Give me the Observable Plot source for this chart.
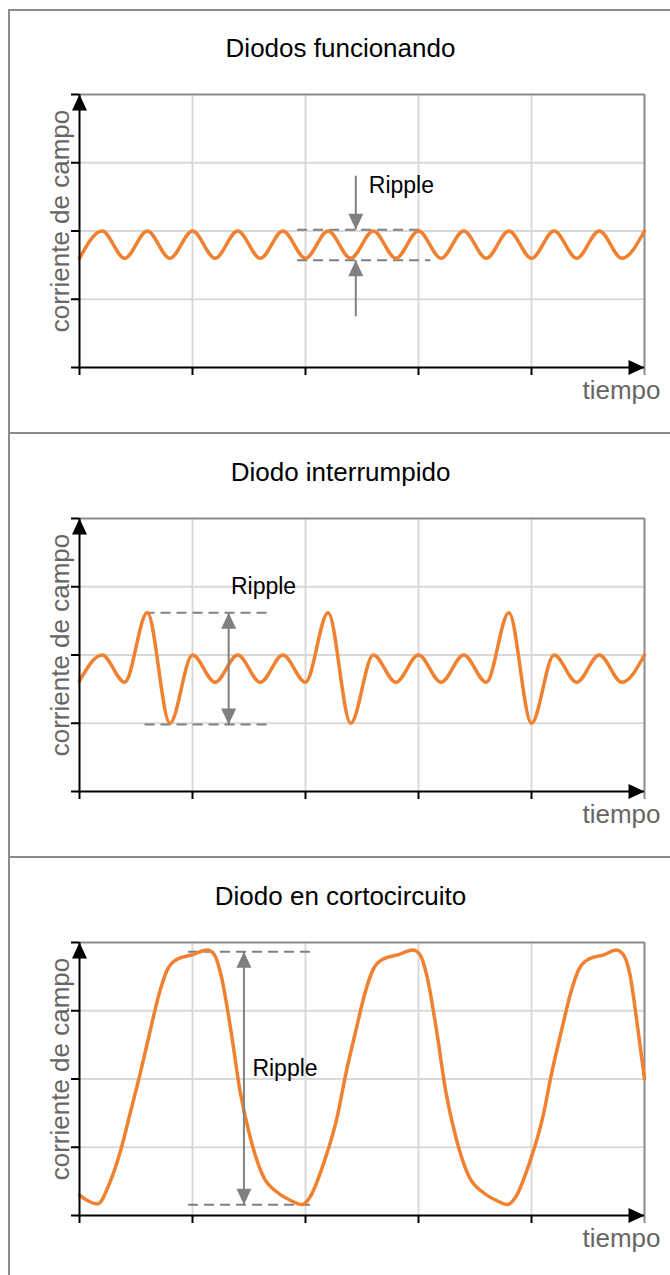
<!DOCTYPE html>
<html>
<head>
<meta charset="utf-8">
<script src="https://cdn.jsdelivr.net/npm/d3@7"></script>
<script src="https://cdn.jsdelivr.net/npm/@observablehq/plot@0.6"></script>
<style>
html,body{margin:0;padding:0;overflow:hidden;background:#fff;width:670px;height:1275px}
#frame{position:absolute;left:8px;top:9px;width:700px;height:1300px;border-left:2px solid #8c8c8c;border-top:2px solid #8c8c8c;box-sizing:border-box}
.sep{position:absolute;left:8px;width:700px;height:2px;background:#8c8c8c}
.panel{position:absolute;left:0;width:670px;height:424px}
</style>
</head>
<body>
<div id="frame"></div>
<div class="sep" style="top:432px"></div>
<div class="sep" style="top:856px"></div>
<div id="p0" class="panel" style="top:9px"></div>
<div id="p1" class="panel" style="top:433px"></div>
<div id="p2" class="panel" style="top:857px"></div>
<script>
// ---- data ----
const titles = ["Diodos funcionando", "Diodo interrumpido", "Diodo en cortocircuito"];
const yLabel = "corriente de campo";
const xLabel = "tiempo";
const rippleText = "Ripple";
const xGrid = [1, 2, 3, 4];
const yGrid = [1, 2, 3];
const xTicks = [0, 1, 2, 3, 4];
const yTicks = [0, 1, 2, 3, 4];

// Panel 1: normal ripple
const p1x = [0,0.2,0.4,0.6,0.8,1.0,1.2,1.4,1.6,1.8,2.0,2.2,2.4,2.6,2.8,3.0,3.2,3.4,3.6,3.8,4.0,4.2,4.4,4.6,4.8,5.0];
const p1y = [1.6,2.0,1.6,2.0,1.6,2.0,1.6,2.0,1.6,2.0,1.6,2.0,1.6,2.0,1.6,2.0,1.6,2.0,1.6,2.0,1.6,2.0,1.6,2.0,1.6,2.0];

// Panel 2: open diode
const p2x = [0,0.2,0.4,0.6,0.8,1.0,1.2,1.4,1.6,1.8,2.0,2.2,2.4,2.6,2.8,3.0,3.2,3.4,3.6,3.8,4.0,4.2,4.4,4.6,4.8,5.0];
const p2y = [1.62,2.0,1.6,2.62,1.0,2.0,1.6,2.0,1.6,2.0,1.6,2.62,1.0,2.0,1.6,2.0,1.6,2.0,1.6,2.62,1.0,2.0,1.6,2.0,1.6,2.0];

// Panel 3: shorted diode
const p3x = [0.00,0.07,0.16,0.27,0.36,0.45,0.54,0.63,0.70,0.78,0.87,1.00,1.13,1.19,1.25,1.34,1.42,1.51,1.63,1.75,1.87,1.97,2.04,2.16,2.28,2.36,2.45,2.52,2.60,2.69,2.82,2.95,3.01,3.07,3.16,3.24,3.33,3.45,3.57,3.69,3.79,3.86,3.98,4.10,4.18,4.27,4.34,4.42,4.51,4.64,4.75,4.81,4.87,4.94,5.00];
const p3y = [0.30,0.22,0.17,0.49,0.93,1.51,2.10,2.74,3.22,3.61,3.76,3.82,3.89,3.83,3.54,2.71,1.83,1.15,0.56,0.34,0.22,0.16,0.27,0.76,1.44,2.10,2.74,3.22,3.61,3.76,3.82,3.89,3.83,3.54,2.71,1.83,1.15,0.56,0.34,0.22,0.16,0.27,0.76,1.44,2.10,2.74,3.22,3.61,3.76,3.82,3.89,3.83,3.54,2.75,2.00];

// Ripple annotations (data coordinates)
const dashes1 = [{y:2.02, x1:1.93, x2:3.02}, {y:1.57, x1:1.93, x2:3.11}];
const shafts1 = [{x:2.445, y1:2.81, y2:2.02}, {x:2.445, y1:0.75, y2:1.57}];
const heads1  = [{x:2.445, y:2.02, dir:"down"}, {x:2.445, y:1.57, dir:"up"}];
const label1  = [{x:2.56, y:2.55}];

const dashes2 = [{y:2.62, x1:0.58, x2:1.66}, {y:0.98, x1:0.58, x2:1.67}];
const shafts2 = [{x:1.32, y1:2.62, y2:0.98}];
const heads2  = [{x:1.32, y:2.62, dir:"up"}, {x:1.32, y:0.98, dir:"down"}];
const label2  = [{x:1.34, y:2.89}];

const dashes3 = [{y:3.865, x1:0.965, x2:2.06}, {y:0.157, x1:0.965, x2:2.06}];
const shafts3 = [{x:1.455, y1:3.865, y2:0.157}];
const heads3  = [{x:1.455, y:3.865, dir:"up"}, {x:1.455, y:0.157, dir:"down"}];
const label3  = [{x:1.53, y:2.05}];

// ---- drawing ----
const arrowHead = {
  draw(ctx) { ctx.moveTo(0, 0); ctx.lineTo(7.5, 16); ctx.lineTo(-7.5, 16); ctx.closePath(); }
};
const dirAngle = {up: 0, down: 180, right: 90};
const GRAY = "#808080";
const ORANGE = "#ef8131";
const FONT = "'Liberation Sans', Arial, Helvetica, sans-serif";

function panel(title, xs, ys, dashes, shafts, heads, label) {
  const pts = xs.map((x, i) => ({x, y: ys[i]}));
  return Plot.plot({
    width: 670, height: 424,
    marginLeft: 79, marginRight: 26, marginTop: 85, marginBottom: 66,
    x: {domain: [0, 5]},
    y: {domain: [0, 4]},
    style: {fontFamily: FONT, background: "transparent", overflow: "visible"},
    marks: [
      Plot.gridX(xGrid, {stroke: "#d9d9d9", strokeOpacity: 1, strokeWidth: 2}),
      Plot.gridY(yGrid, {stroke: "#d9d9d9", strokeOpacity: 1, strokeWidth: 2}),
      Plot.ruleY([4], {stroke: "#8c8c8c", strokeWidth: 2}),
      Plot.ruleX([5], {stroke: "#8c8c8c", strokeWidth: 2, insetBottom: -8}),
      Plot.ruleY(dashes, {y: "y", x1: "x1", x2: "x2", stroke: GRAY, strokeWidth: 2, strokeDasharray: "10,6"}),
      Plot.line(pts, {x: "x", y: "y", curve: "monotone-x", stroke: ORANGE, strokeWidth: 3.5}),
      Plot.link(shafts, {x1: "x", x2: "x", y1: "y1", y2: "y2", stroke: GRAY, strokeWidth: 2}),
      Plot.dot(heads, {x: "x", y: "y", rotate: d => dirAngle[d.dir], symbol: arrowHead, fill: GRAY}),
      Plot.ruleX([0], {stroke: "black", strokeWidth: 2}),
      Plot.ruleY([0], {stroke: "black", strokeWidth: 2}),
      Plot.axisX(xTicks, {tickSize: 8, tickFormat: () => "", stroke: "black", strokeWidth: 2, label: null}),
      Plot.axisY(yTicks, {tickSize: 8, tickFormat: () => "", stroke: "black", strokeWidth: 2, label: null}),
      Plot.dot([{x: 0, y: 4, dir: "up"}, {x: 5, y: 0, dir: "right"}],
        {x: "x", y: "y", rotate: d => dirAngle[d.dir], symbol: arrowHead, fill: "black"}),
      Plot.text(label, {x: "x", y: "y", text: () => rippleText, textAnchor: "start", lineAnchor: "bottom", fontSize: 23, fill: "black"}),
      Plot.text([title], {text: d => d, frameAnchor: "top", dx: -21.5, dy: -37.3, lineAnchor: "bottom", textAnchor: "middle", fontSize: 26, fill: "black"}),
      Plot.text([yLabel], {text: d => d, frameAnchor: "left", rotate: -90, dx: -11, dy: -10, lineAnchor: "bottom", textAnchor: "middle", fontSize: 26, fill: "#666"}),
      Plot.text([xLabel], {text: d => d, frameAnchor: "bottom-right", dx: 16, dy: 31.3, lineAnchor: "bottom", textAnchor: "end", fontSize: 26, fill: "#666"})
    ]
  });
}

document.getElementById("p0").append(panel(titles[0], p1x, p1y, dashes1, shafts1, heads1, label1));
document.getElementById("p1").append(panel(titles[1], p2x, p2y, dashes2, shafts2, heads2, label2));
document.getElementById("p2").append(panel(titles[2], p3x, p3y, dashes3, shafts3, heads3, label3));
</script>
</body>
</html>
